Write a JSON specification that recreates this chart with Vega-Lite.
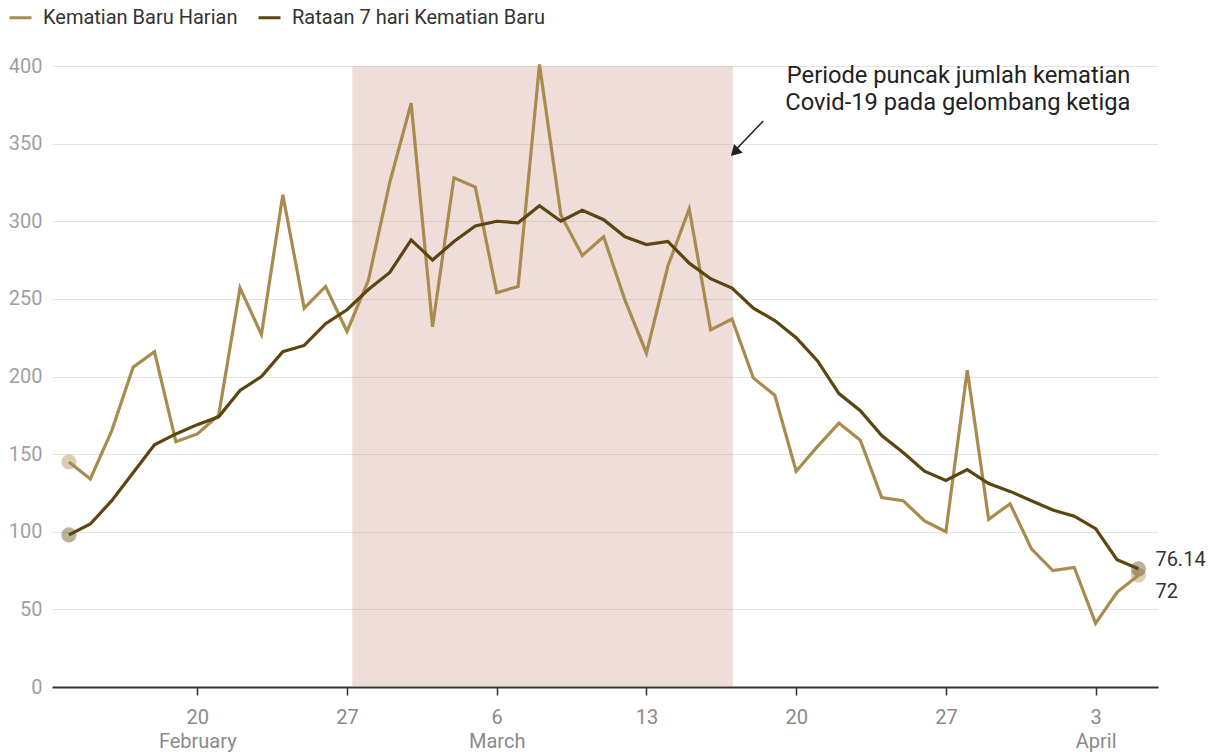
{
  "$schema": "https://vega.github.io/schema/vega-lite/v6.json",
  "width": 1106,
  "height": 621,
  "autosize": {"type": "none"},
  "padding": {"left": 52, "top": 66, "right": 54, "bottom": 65},
  "background": "white",
  "config": {"font": "Roboto", "view": {"stroke": null}},
  "datasets": {
    "deaths": [
      {"date": "2022-02-14T00:00:00", "series": "Kematian Baru Harian", "value": 145},
      {"date": "2022-02-15T00:00:00", "series": "Kematian Baru Harian", "value": 134},
      {"date": "2022-02-16T00:00:00", "series": "Kematian Baru Harian", "value": 165},
      {"date": "2022-02-17T00:00:00", "series": "Kematian Baru Harian", "value": 206},
      {"date": "2022-02-18T00:00:00", "series": "Kematian Baru Harian", "value": 216},
      {"date": "2022-02-19T00:00:00", "series": "Kematian Baru Harian", "value": 158},
      {"date": "2022-02-20T00:00:00", "series": "Kematian Baru Harian", "value": 163},
      {"date": "2022-02-21T00:00:00", "series": "Kematian Baru Harian", "value": 175},
      {"date": "2022-02-22T00:00:00", "series": "Kematian Baru Harian", "value": 257},
      {"date": "2022-02-23T00:00:00", "series": "Kematian Baru Harian", "value": 227},
      {"date": "2022-02-24T00:00:00", "series": "Kematian Baru Harian", "value": 317},
      {"date": "2022-02-25T00:00:00", "series": "Kematian Baru Harian", "value": 244},
      {"date": "2022-02-26T00:00:00", "series": "Kematian Baru Harian", "value": 258},
      {"date": "2022-02-27T00:00:00", "series": "Kematian Baru Harian", "value": 229},
      {"date": "2022-02-28T00:00:00", "series": "Kematian Baru Harian", "value": 262},
      {"date": "2022-03-01T00:00:00", "series": "Kematian Baru Harian", "value": 325},
      {"date": "2022-03-02T00:00:00", "series": "Kematian Baru Harian", "value": 376},
      {"date": "2022-03-03T00:00:00", "series": "Kematian Baru Harian", "value": 232},
      {"date": "2022-03-04T00:00:00", "series": "Kematian Baru Harian", "value": 328},
      {"date": "2022-03-05T00:00:00", "series": "Kematian Baru Harian", "value": 322},
      {"date": "2022-03-06T00:00:00", "series": "Kematian Baru Harian", "value": 254},
      {"date": "2022-03-07T00:00:00", "series": "Kematian Baru Harian", "value": 258},
      {"date": "2022-03-08T00:00:00", "series": "Kematian Baru Harian", "value": 401},
      {"date": "2022-03-09T00:00:00", "series": "Kematian Baru Harian", "value": 304},
      {"date": "2022-03-10T00:00:00", "series": "Kematian Baru Harian", "value": 278},
      {"date": "2022-03-11T00:00:00", "series": "Kematian Baru Harian", "value": 290},
      {"date": "2022-03-12T00:00:00", "series": "Kematian Baru Harian", "value": 249},
      {"date": "2022-03-13T00:00:00", "series": "Kematian Baru Harian", "value": 215},
      {"date": "2022-03-14T00:00:00", "series": "Kematian Baru Harian", "value": 271},
      {"date": "2022-03-15T00:00:00", "series": "Kematian Baru Harian", "value": 308},
      {"date": "2022-03-16T00:00:00", "series": "Kematian Baru Harian", "value": 230},
      {"date": "2022-03-17T00:00:00", "series": "Kematian Baru Harian", "value": 237},
      {"date": "2022-03-18T00:00:00", "series": "Kematian Baru Harian", "value": 199},
      {"date": "2022-03-19T00:00:00", "series": "Kematian Baru Harian", "value": 188},
      {"date": "2022-03-20T00:00:00", "series": "Kematian Baru Harian", "value": 139},
      {"date": "2022-03-21T00:00:00", "series": "Kematian Baru Harian", "value": 155},
      {"date": "2022-03-22T00:00:00", "series": "Kematian Baru Harian", "value": 170},
      {"date": "2022-03-23T00:00:00", "series": "Kematian Baru Harian", "value": 159},
      {"date": "2022-03-24T00:00:00", "series": "Kematian Baru Harian", "value": 122},
      {"date": "2022-03-25T00:00:00", "series": "Kematian Baru Harian", "value": 120},
      {"date": "2022-03-26T00:00:00", "series": "Kematian Baru Harian", "value": 107},
      {"date": "2022-03-27T00:00:00", "series": "Kematian Baru Harian", "value": 100},
      {"date": "2022-03-28T00:00:00", "series": "Kematian Baru Harian", "value": 204},
      {"date": "2022-03-29T00:00:00", "series": "Kematian Baru Harian", "value": 108},
      {"date": "2022-03-30T00:00:00", "series": "Kematian Baru Harian", "value": 118},
      {"date": "2022-03-31T00:00:00", "series": "Kematian Baru Harian", "value": 89},
      {"date": "2022-04-01T00:00:00", "series": "Kematian Baru Harian", "value": 75},
      {"date": "2022-04-02T00:00:00", "series": "Kematian Baru Harian", "value": 77},
      {"date": "2022-04-03T00:00:00", "series": "Kematian Baru Harian", "value": 41},
      {"date": "2022-04-04T00:00:00", "series": "Kematian Baru Harian", "value": 61},
      {"date": "2022-04-05T00:00:00", "series": "Kematian Baru Harian", "value": 72},
      {"date": "2022-02-14T00:00:00", "series": "Rataan 7 hari Kematian Baru", "value": 98},
      {"date": "2022-02-15T00:00:00", "series": "Rataan 7 hari Kematian Baru", "value": 105},
      {"date": "2022-02-16T00:00:00", "series": "Rataan 7 hari Kematian Baru", "value": 120},
      {"date": "2022-02-17T00:00:00", "series": "Rataan 7 hari Kematian Baru", "value": 138},
      {"date": "2022-02-18T00:00:00", "series": "Rataan 7 hari Kematian Baru", "value": 156},
      {"date": "2022-02-19T00:00:00", "series": "Rataan 7 hari Kematian Baru", "value": 163},
      {"date": "2022-02-20T00:00:00", "series": "Rataan 7 hari Kematian Baru", "value": 169},
      {"date": "2022-02-21T00:00:00", "series": "Rataan 7 hari Kematian Baru", "value": 174},
      {"date": "2022-02-22T00:00:00", "series": "Rataan 7 hari Kematian Baru", "value": 191},
      {"date": "2022-02-23T00:00:00", "series": "Rataan 7 hari Kematian Baru", "value": 200},
      {"date": "2022-02-24T00:00:00", "series": "Rataan 7 hari Kematian Baru", "value": 216},
      {"date": "2022-02-25T00:00:00", "series": "Rataan 7 hari Kematian Baru", "value": 220},
      {"date": "2022-02-26T00:00:00", "series": "Rataan 7 hari Kematian Baru", "value": 234},
      {"date": "2022-02-27T00:00:00", "series": "Rataan 7 hari Kematian Baru", "value": 243},
      {"date": "2022-02-28T00:00:00", "series": "Rataan 7 hari Kematian Baru", "value": 256},
      {"date": "2022-03-01T00:00:00", "series": "Rataan 7 hari Kematian Baru", "value": 267},
      {"date": "2022-03-02T00:00:00", "series": "Rataan 7 hari Kematian Baru", "value": 288},
      {"date": "2022-03-03T00:00:00", "series": "Rataan 7 hari Kematian Baru", "value": 275},
      {"date": "2022-03-04T00:00:00", "series": "Rataan 7 hari Kematian Baru", "value": 287},
      {"date": "2022-03-05T00:00:00", "series": "Rataan 7 hari Kematian Baru", "value": 297},
      {"date": "2022-03-06T00:00:00", "series": "Rataan 7 hari Kematian Baru", "value": 300},
      {"date": "2022-03-07T00:00:00", "series": "Rataan 7 hari Kematian Baru", "value": 299},
      {"date": "2022-03-08T00:00:00", "series": "Rataan 7 hari Kematian Baru", "value": 310},
      {"date": "2022-03-09T00:00:00", "series": "Rataan 7 hari Kematian Baru", "value": 300},
      {"date": "2022-03-10T00:00:00", "series": "Rataan 7 hari Kematian Baru", "value": 307},
      {"date": "2022-03-11T00:00:00", "series": "Rataan 7 hari Kematian Baru", "value": 301},
      {"date": "2022-03-12T00:00:00", "series": "Rataan 7 hari Kematian Baru", "value": 290},
      {"date": "2022-03-13T00:00:00", "series": "Rataan 7 hari Kematian Baru", "value": 285},
      {"date": "2022-03-14T00:00:00", "series": "Rataan 7 hari Kematian Baru", "value": 287},
      {"date": "2022-03-15T00:00:00", "series": "Rataan 7 hari Kematian Baru", "value": 273},
      {"date": "2022-03-16T00:00:00", "series": "Rataan 7 hari Kematian Baru", "value": 263},
      {"date": "2022-03-17T00:00:00", "series": "Rataan 7 hari Kematian Baru", "value": 257},
      {"date": "2022-03-18T00:00:00", "series": "Rataan 7 hari Kematian Baru", "value": 244},
      {"date": "2022-03-19T00:00:00", "series": "Rataan 7 hari Kematian Baru", "value": 236},
      {"date": "2022-03-20T00:00:00", "series": "Rataan 7 hari Kematian Baru", "value": 225},
      {"date": "2022-03-21T00:00:00", "series": "Rataan 7 hari Kematian Baru", "value": 210},
      {"date": "2022-03-22T00:00:00", "series": "Rataan 7 hari Kematian Baru", "value": 189},
      {"date": "2022-03-23T00:00:00", "series": "Rataan 7 hari Kematian Baru", "value": 178},
      {"date": "2022-03-24T00:00:00", "series": "Rataan 7 hari Kematian Baru", "value": 162},
      {"date": "2022-03-25T00:00:00", "series": "Rataan 7 hari Kematian Baru", "value": 151},
      {"date": "2022-03-26T00:00:00", "series": "Rataan 7 hari Kematian Baru", "value": 139},
      {"date": "2022-03-27T00:00:00", "series": "Rataan 7 hari Kematian Baru", "value": 133},
      {"date": "2022-03-28T00:00:00", "series": "Rataan 7 hari Kematian Baru", "value": 140},
      {"date": "2022-03-29T00:00:00", "series": "Rataan 7 hari Kematian Baru", "value": 131},
      {"date": "2022-03-30T00:00:00", "series": "Rataan 7 hari Kematian Baru", "value": 126},
      {"date": "2022-03-31T00:00:00", "series": "Rataan 7 hari Kematian Baru", "value": 120},
      {"date": "2022-04-01T00:00:00", "series": "Rataan 7 hari Kematian Baru", "value": 114},
      {"date": "2022-04-02T00:00:00", "series": "Rataan 7 hari Kematian Baru", "value": 110},
      {"date": "2022-04-03T00:00:00", "series": "Rataan 7 hari Kematian Baru", "value": 102},
      {"date": "2022-04-04T00:00:00", "series": "Rataan 7 hari Kematian Baru", "value": 82},
      {"date": "2022-04-05T00:00:00", "series": "Rataan 7 hari Kematian Baru", "value": 76.14}
    ],
    "ends": [
      {"date": "2022-02-14T00:00:00", "series": "Kematian Baru Harian", "value": 145},
      {"date": "2022-04-05T00:00:00", "series": "Kematian Baru Harian", "value": 72},
      {"date": "2022-02-14T00:00:00", "series": "Rataan 7 hari Kematian Baru", "value": 98},
      {"date": "2022-04-05T00:00:00", "series": "Rataan 7 hari Kematian Baru", "value": 76.14}
    ]
  },
  "encoding": {
    "x": {
      "field": "date",
      "type": "temporal",
      "scale": {"domain": [
        {"year": 2022, "month": 2, "date": 13, "hours": 5},
        {"year": 2022, "month": 4, "date": 5, "hours": 22}
      ]},
      "axis": {
        "title": null,
        "grid": false,
        "values": [
          {"year": 2022, "month": 2, "date": 20},
          {"year": 2022, "month": 2, "date": 27},
          {"year": 2022, "month": 3, "date": 6},
          {"year": 2022, "month": 3, "date": 13},
          {"year": 2022, "month": 3, "date": 20},
          {"year": 2022, "month": 3, "date": 27},
          {"year": 2022, "month": 4, "date": 3}
        ],
        "labelExpr": "[timeFormat(datum.value, '%-d'), (date(datum.value) <= 7 || (month(datum.value) == 1 && date(datum.value) == 20)) ? timeFormat(datum.value, '%B') : '']",
        "domainColor": "#333333",
        "domainWidth": 2,
        "tickColor": "#333333",
        "tickWidth": 1.5,
        "tickSize": 8,
        "labelColor": "#8a8a8a",
        "labelFontSize": 20,
        "labelPadding": 12,
        "labelLineHeight": 24,
        "labelFlush": false
      }
    },
    "y": {
      "field": "value",
      "type": "quantitative",
      "scale": {"domain": [0, 400]},
      "axis": {
        "title": null,
        "domain": false,
        "ticks": false,
        "grid": true,
        "gridColor": "#e4e4e4",
        "gridWidth": 1,
        "values": [0, 50, 100, 150, 200, 250, 300, 350, 400],
        "labelColor": "#a0a0a0",
        "labelFontSize": 20,
        "labelPadding": 10
      }
    }
  },
  "layer": [
    {
      "data": {"values": [{"date": "2022-02-27T06:00:00", "date2": "2022-03-17T01:00:00", "value": 0, "value2": 400}]},
      "mark": {"type": "rect", "color": "#c98f84", "opacity": 0.3},
      "encoding": {"x2": {"field": "date2"}, "y2": {"field": "value2"}}
    },
    {
      "data": {"name": "ends"},
      "mark": {"type": "circle", "size": 230, "opacity": 0.42},
      "encoding": {
        "color": {
          "field": "series",
          "type": "nominal",
          "scale": {"domain": ["Kematian Baru Harian", "Rataan 7 hari Kematian Baru"], "range": ["#a88b4e", "#5b4611"]},
          "legend": {
            "title": null,
            "orient": "none",
            "legendX": -44,
            "legendY": -61,
            "direction": "horizontal",
            "symbolType": "stroke",
            "symbolStrokeWidth": 3,
            "symbolSize": 484,
            "symbolOpacity": 1,
            "labelFontSize": 20,
            "labelLimit": 500,
            "labelColor": "#333333",
            "labelOffset": 10,
            "columnPadding": 14
          }
        }
      }
    },
    {
      "data": {"name": "deaths"},
      "mark": {"type": "line", "strokeWidth": 3.2, "strokeJoin": "miter", "clip": false},
      "encoding": {
        "color": {
          "field": "series",
          "type": "nominal",
          "scale": {"domain": ["Kematian Baru Harian", "Rataan 7 hari Kematian Baru"], "range": ["#a88b4e", "#5b4611"]},
          "legend": {
            "title": null,
            "orient": "none",
            "legendX": -44,
            "legendY": -61,
            "direction": "horizontal",
            "symbolType": "stroke",
            "symbolStrokeWidth": 3,
            "symbolSize": 484,
            "symbolOpacity": 1,
            "labelFontSize": 20,
            "labelLimit": 500,
            "labelColor": "#333333",
            "labelOffset": 10,
            "columnPadding": 14
          }
        }
      }
    },
    {
      "data": {"values": [{"date": "2022-04-05T00:00:00", "value": 76.14, "label": "76.14"}]},
      "mark": {"type": "text", "align": "left", "baseline": "middle", "dx": 17, "dy": -9, "fontSize": 20, "color": "#333333"},
      "encoding": {"text": {"field": "label"}}
    },
    {
      "data": {"values": [{"date": "2022-04-05T00:00:00", "value": 72, "label": "72"}]},
      "mark": {"type": "text", "align": "left", "baseline": "middle", "dx": 17, "dy": 17, "fontSize": 20, "color": "#333333"},
      "encoding": {"text": {"field": "label"}}
    },
    {
      "data": {"values": [{"date": "2022-04-04T15:00:00", "value": 389}]},
      "mark": {"type": "text", "align": "right", "baseline": "alphabetic", "fontSize": 23.7, "lineHeight": 27, "color": "#222222", "text": ["Periode puncak jumlah kematian", "Covid-19 pada gelombang ketiga"]}
    },
    {
      "data": {"values": [{"date": "2022-03-18T11:00:00", "value": 364.6, "date2": "2022-03-17T05:00:00", "value2": 346.5}]},
      "mark": {"type": "rule", "color": "#222222", "strokeWidth": 1.6},
      "encoding": {"x2": {"field": "date2"}, "y2": {"field": "value2"}}
    },
    {
      "data": {"values": [{"date": "2022-03-17T03:00:00", "value": 344.5}]},
      "mark": {"type": "point", "shape": "triangle-up", "filled": true, "color": "#222222", "size": 150, "angle": 225, "opacity": 1}
    }
  ]
}
